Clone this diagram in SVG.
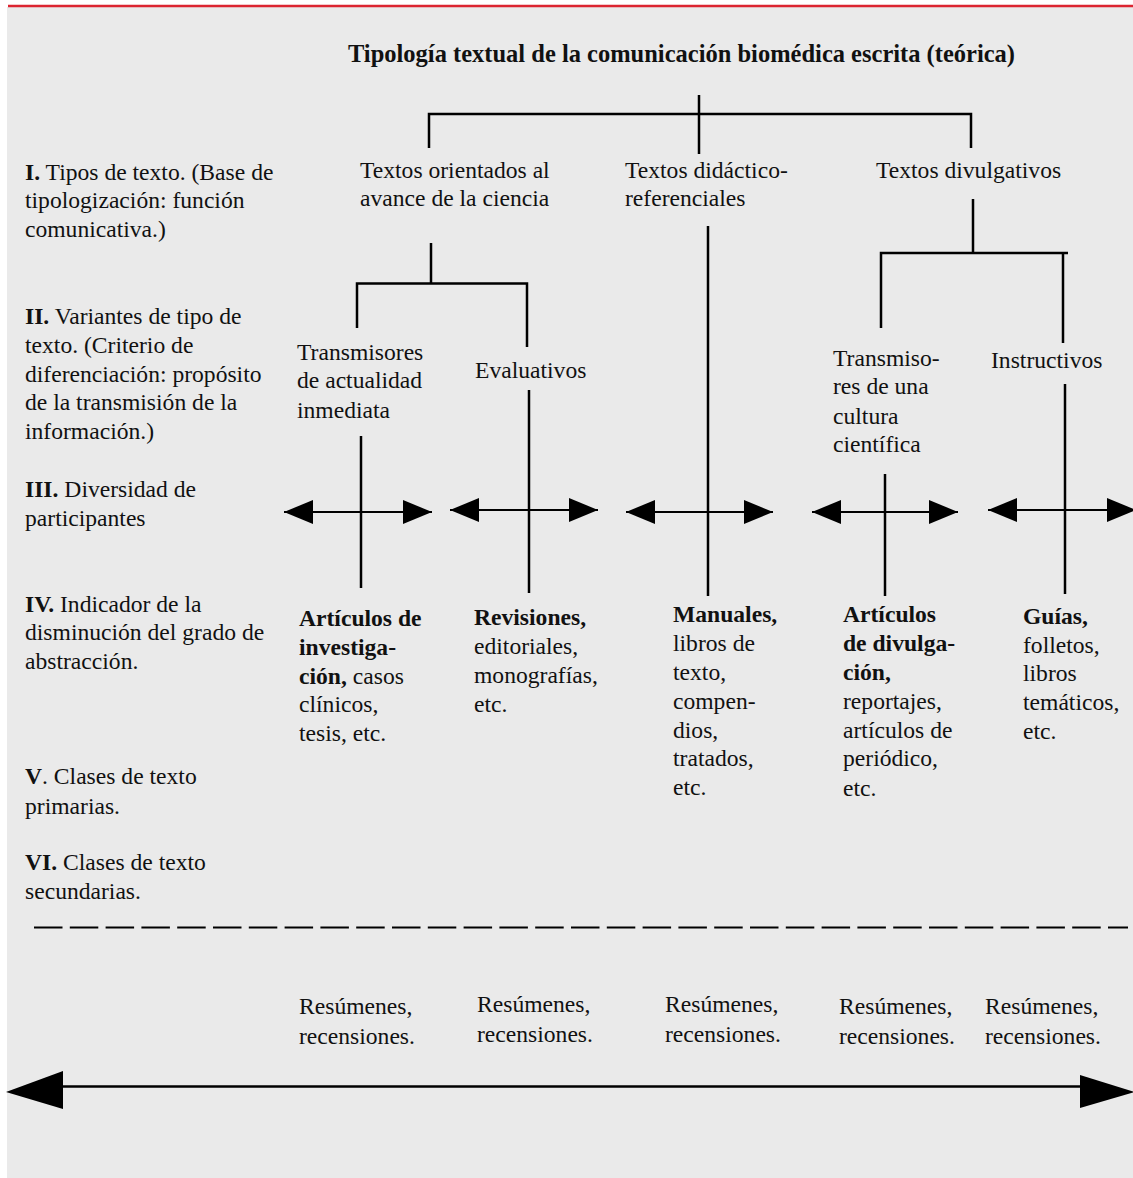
<svg xmlns="http://www.w3.org/2000/svg" width="1133" height="1178" viewBox="0 0 1133 1178">
<defs>
<style>
text{font-family:"Liberation Serif","Times New Roman",serif;font-size:23.6px;fill:#111;}
.b{font-weight:bold;}
.title{font-weight:bold;font-size:24.5px;}
.ln{stroke:#000;stroke-width:2.5;fill:none;}
.ar{stroke:#000;stroke-width:2.2;fill:none;}
</style>
<marker id="ah" markerUnits="userSpaceOnUse" markerWidth="30" markerHeight="26" refX="29" refY="12.5" orient="auto-start-reverse" viewBox="0 0 30 26">
<path d="M0,0.5 L29,12.5 L0,24.5 z" fill="#000"/>
</marker>
</defs>
<rect x="0" y="0" width="1133" height="1178" fill="#fff"/>
<rect x="7" y="7" width="1126" height="1171" fill="#eaeaea"/>
<line x1="8" y1="6" x2="1133" y2="6" stroke="#dc2430" stroke-width="2.4"/>

<text class="title" x="681.5" y="62" text-anchor="middle">Tipología textual de la comunicación biomédica escrita (teórica)</text>

<g id="levels">
<text x="25" y="180"><tspan class="b">I.</tspan> Tipos de texto. (Base de</text>
<text x="25" y="208">tipologización: función</text>
<text x="25" y="237">comunicativa.)</text>
<text x="25" y="324"><tspan class="b">II.</tspan> Variantes de tipo de</text>
<text x="25" y="353">texto. (Criterio de</text>
<text x="25" y="382">diferenciación: propósito</text>
<text x="25" y="410">de la transmisión de la</text>
<text x="25" y="439">información.)</text>
<text x="25" y="497"><tspan class="b">III.</tspan> Diversidad de</text>
<text x="25" y="526">participantes</text>
<text x="25" y="612"><tspan class="b">IV.</tspan> Indicador de la</text>
<text x="25" y="640">disminución del grado de</text>
<text x="25" y="669">abstracción.</text>
<text x="25" y="784"><tspan class="b">V</tspan>. Clases de texto</text>
<text x="25" y="814">primarias.</text>
<text x="25" y="870"><tspan class="b">VI.</tspan> Clases de texto</text>
<text x="25" y="899">secundarias.</text>
</g>

<g id="n-avance"><text x="360" y="178">Textos orientados al</text><text x="360" y="206">avance de la ciencia</text></g>
<g id="n-didactico"><text x="625" y="178">Textos didáctico-</text><text x="625" y="206">referenciales</text></g>
<g id="n-divulgativos"><text x="876" y="178">Textos divulgativos</text></g>

<g id="n-transmisores"><text x="297" y="360">Transmisores</text><text x="297" y="388">de actualidad</text><text x="297" y="418">inmediata</text></g>
<g id="n-evaluativos"><text x="475" y="378">Evaluativos</text></g>
<g id="n-cultura"><text x="833" y="366">Transmiso-</text><text x="833" y="394">res de una</text><text x="833" y="424">cultura</text><text x="833" y="452">científica</text></g>
<g id="n-instructivos"><text x="991" y="368">Instructivos</text></g>

<g id="c-investigacion">
<text class="b" x="299" y="626">Artículos de</text>
<text class="b" x="299" y="655">investiga-</text>
<text x="299" y="684"><tspan class="b">ción,</tspan> casos</text>
<text x="299" y="712">clínicos,</text>
<text x="299" y="741">tesis, etc.</text>
</g>
<g id="c-revisiones">
<text class="b" x="474" y="625">Revisiones,</text>
<text x="474" y="654">editoriales,</text>
<text x="474" y="683">monografías,</text>
<text x="474" y="712">etc.</text>
</g>
<g id="c-manuales">
<text class="b" x="673" y="622">Manuales,</text>
<text x="673" y="651">libros de</text>
<text x="673" y="680">texto,</text>
<text x="673" y="709">compen-</text>
<text x="673" y="738">dios,</text>
<text x="673" y="766">tratados,</text>
<text x="673" y="795">etc.</text>
</g>
<g id="c-divulgacion">
<text class="b" x="843" y="622">Artículos</text>
<text class="b" x="843" y="651">de divulga-</text>
<text class="b" x="843" y="680">ción,</text>
<text x="843" y="709">reportajes,</text>
<text x="843" y="738">artículos de</text>
<text x="843" y="766">periódico,</text>
<text x="843" y="796">etc.</text>
</g>
<g id="c-guias">
<text class="b" x="1023" y="624">Guías,</text>
<text x="1023" y="653">folletos,</text>
<text x="1023" y="681">libros</text>
<text x="1023" y="710">temáticos,</text>
<text x="1023" y="739">etc.</text>
</g>

<g id="s-1"><text x="299" y="1014">Resúmenes,</text><text x="299" y="1044">recensiones.</text></g>
<g id="s-2"><text x="477" y="1012">Resúmenes,</text><text x="477" y="1042">recensiones.</text></g>
<g id="s-3"><text x="665" y="1012">Resúmenes,</text><text x="665" y="1042">recensiones.</text></g>
<g id="s-4"><text x="839" y="1014">Resúmenes,</text><text x="839" y="1044">recensiones.</text></g>
<g id="s-5"><text x="985" y="1014">Resúmenes,</text><text x="985" y="1044">recensiones.</text></g>

<g id="connectors">
<path class="ln" d="M699,95 V154 M429,148 V114 H971 V148"/>
<path class="ln" d="M431,243 V283.5 M357,328 V283.5 H527 V347"/>
<path class="ln" d="M973,199 V253 M881,328 V253 H1068 M1063,252 V343"/>
<line class="ln" x1="361" y1="436" x2="361" y2="588"/>
<line class="ln" x1="529" y1="390" x2="529" y2="593"/>
<line class="ln" x1="708" y1="226" x2="708" y2="596"/>
<line class="ln" x1="885" y1="474" x2="885" y2="596"/>
<line class="ln" x1="1065" y1="384" x2="1065" y2="594"/>
<line class="ar" x1="284" y1="512" x2="432" y2="512" marker-start="url(#ah)" marker-end="url(#ah)"/>
<line class="ar" x1="450" y1="510" x2="598" y2="510" marker-start="url(#ah)" marker-end="url(#ah)"/>
<line class="ar" x1="626" y1="512" x2="773" y2="512" marker-start="url(#ah)" marker-end="url(#ah)"/>
<line class="ar" x1="812" y1="512" x2="958" y2="512" marker-start="url(#ah)" marker-end="url(#ah)"/>
<line class="ar" x1="988" y1="510" x2="1136" y2="510" marker-start="url(#ah)" marker-end="url(#ah)"/>
<line x1="34" y1="927.5" x2="1128" y2="927.5" stroke="#000" stroke-width="2" stroke-dasharray="28.5 7.3"/>
<line x1="60" y1="1086.5" x2="1084" y2="1086.5" stroke="#000" stroke-width="2.3"/>
<polygon points="6,1092 63,1071 63,1109" fill="#000"/>
<polygon points="1080,1075 1080,1108 1135,1092" fill="#000"/>
</g>
</svg>
